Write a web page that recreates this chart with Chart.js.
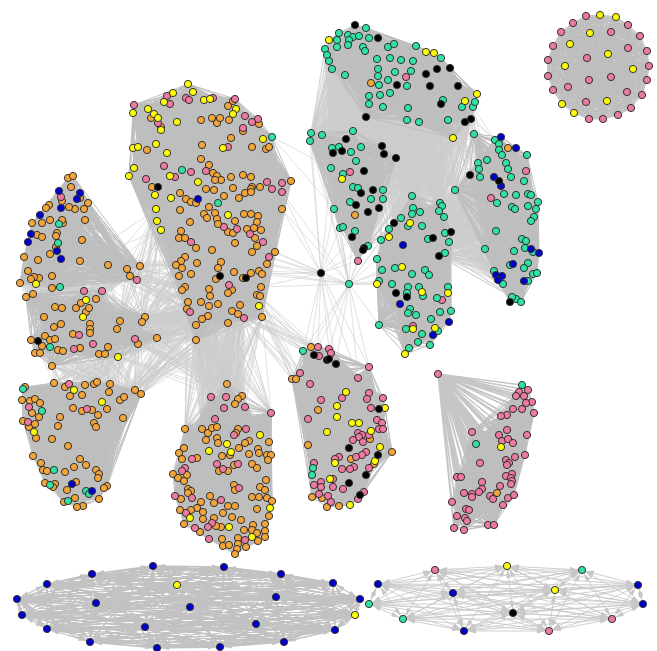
<!DOCTYPE html>
<html><head><meta charset="utf-8">
<script src="https://cdn.jsdelivr.net/npm/chart.js@4"></script>
<style>html,body{margin:0;padding:0;background:#fff}canvas{display:block}</style>
</head><body><canvas id="c" width="657" height="651"></canvas>
<script>
// node values: [x, y] in the layout's coordinate system
const A_orange=[[68,178],[73,176],[71,187],[80,198],[88,203],[84,209],[75,209],[69,207],[62,201],[49,205],[46,208],[85,220],[63,223],[62,220],[50,220],[42,223],[32,223],[57,233],[56,236],[37,235],[42,237],[82,240],[56,247],[50,254],[24,257],[38,260],[80,261],[108,265],[28,271],[52,276],[39,278],[34,277],[31,279],[20,283],[127,269],[140,266],[130,276],[52,288]];
const A_blue=[[59,191],[80,193],[77,199],[61,208],[40,215],[31,234],[28,242],[57,251],[61,259]];
const A_pink=[[61,197],[137,280]];
const A_green=[[59,224],[58,243],[60,287]];
const A_yellow=[[36,284]];
const B_orange=[[26,297],[33,294],[55,307],[62,308],[76,308],[81,303],[86,312],[89,308],[96,299],[44,317],[54,327],[61,324],[90,324],[90,329],[90,333],[73,334],[31,340],[45,336],[50,340],[55,339],[42,346],[35,353],[40,353],[58,350],[63,351],[80,348],[108,347],[99,354],[105,354],[52,366],[120,321],[117,329],[145,317],[142,322],[138,344],[157,338]];
const B_pink=[[84,291],[102,291],[79,335],[93,344],[74,349],[135,339]];
const B_yellow=[[86,300],[83,317],[118,357]];
const B_black=[[38,341]];
const B_green=[[50,347]];
const C_orange=[[54,383],[65,387],[70,396],[82,395],[85,385],[94,384],[97,382],[110,384],[109,392],[135,390],[141,394],[120,400],[124,397],[107,409],[123,418],[25,387],[22,400],[30,401],[35,399],[40,403],[32,413],[39,417],[23,421],[29,427],[35,424],[36,438],[52,439],[73,408],[82,411],[92,410],[98,415],[94,423],[96,427],[60,417],[58,426],[68,446],[33,456],[41,463],[43,470],[47,471],[65,472],[74,467],[80,459],[86,465],[96,470],[99,474],[98,478],[45,483],[55,484],[53,487],[76,482],[67,490],[107,486],[104,488],[99,499],[75,498],[64,502],[83,506],[77,507]];
const C_pink=[[69,384],[87,409],[29,407],[28,422]];
const C_yellow=[[74,390],[102,402],[34,432]];
const C_green=[[23,389],[42,411],[54,470],[50,485],[86,491],[89,494],[68,501]];
const C_blue=[[72,484],[92,491]];
const D_orange=[[151,118],[161,127],[228,106],[233,101],[201,120],[212,118],[217,123],[220,118],[229,120],[243,131],[259,124],[231,138],[202,145],[147,150],[252,147],[266,149],[269,147],[201,159],[209,165],[213,173],[217,176],[221,180],[215,180],[231,177],[243,175],[251,177],[152,187],[291,181],[260,187],[252,187],[251,189],[233,188],[214,190],[206,189],[245,193],[251,192],[239,198],[224,196],[180,193],[186,199],[191,202],[196,203],[180,210],[209,207],[204,214],[215,213],[207,218],[217,219],[244,214],[251,214],[258,216],[282,209],[190,222],[218,224],[235,221],[257,222],[254,228],[247,229],[261,230],[181,231],[228,232],[233,233],[179,238],[185,238],[255,238],[257,246],[196,248],[235,243],[252,252],[212,250],[275,252],[185,257],[181,261],[176,265],[182,268],[197,263],[221,262],[218,268],[267,264],[179,276],[191,274],[234,272],[216,279],[243,278],[251,273],[259,271],[262,274],[185,287],[182,290],[209,289],[232,290],[228,293],[210,296],[261,287],[257,295],[260,296],[188,302],[201,302],[209,306],[218,304],[240,305],[187,309],[232,311],[238,314],[208,316],[202,319],[196,325],[228,323],[262,317],[196,340]];
const D_pink=[[134,105],[167,96],[170,104],[186,98],[189,100],[213,98],[235,99],[245,116],[258,119],[252,122],[158,123],[243,128],[228,147],[164,166],[191,172],[206,171],[175,177],[146,179],[267,182],[272,189],[282,183],[282,192],[224,227],[237,229],[250,234],[191,242],[263,242],[269,257],[229,285],[190,312],[244,318]];
const D_yellow=[[188,84],[193,92],[173,93],[164,102],[133,113],[148,109],[154,114],[158,118],[161,130],[177,122],[204,100],[210,99],[236,109],[233,114],[263,139],[223,148],[156,144],[133,148],[138,147],[167,153],[134,168],[129,176],[170,176],[155,195],[198,182],[171,198],[156,209],[157,221],[161,230],[228,215],[259,306]];
const D_black=[[158,187],[220,276],[246,278]];
const D_green=[[272,137],[182,170],[218,203]];
const D_blue=[[198,199]];
const E_orange=[[227,384],[242,396],[238,399],[235,404],[185,429],[202,429],[208,433],[212,428],[217,427],[238,429],[236,433],[206,440],[217,438],[218,443],[184,448],[179,453],[182,459],[249,441],[245,443],[239,448],[269,442],[258,449],[259,453],[249,454],[267,455],[271,455],[268,460],[222,456],[230,455],[197,458],[234,465],[252,464],[257,468],[228,471],[219,471],[173,474],[178,478],[187,475],[184,481],[266,480],[260,487],[265,490],[234,485],[235,490],[188,489],[191,491],[188,493],[259,497],[252,497],[267,498],[272,501],[210,496],[181,499],[201,502],[214,503],[228,506],[235,506],[197,508],[180,510],[191,510],[203,512],[257,509],[223,513],[214,518],[203,519],[232,517],[241,520],[269,516],[184,524],[221,527],[216,526],[200,532],[244,530],[253,525],[252,530],[265,524],[265,531],[265,537],[257,533],[258,541],[222,539],[238,538],[223,546],[229,545],[238,544],[246,547],[237,549],[235,554]];
const E_pink=[[211,397],[226,397],[224,408],[245,407],[271,413],[215,419],[246,429],[234,435],[192,459],[217,464],[223,469],[238,464],[185,468],[182,471],[239,488],[175,496],[192,498],[221,500],[186,513],[212,523],[208,527],[195,528],[209,539],[245,540]];
const E_yellow=[[260,435],[227,444],[209,451],[231,452],[270,508],[190,518],[229,527],[252,537]];
const F_orange=[[311,347],[292,379],[296,379],[318,410],[308,445],[370,439],[392,452],[351,459],[374,464],[312,497],[322,498],[327,507],[339,506]];
const F_pink=[[318,347],[329,349],[331,353],[319,356],[369,367],[300,373],[358,378],[310,384],[342,398],[321,400],[369,393],[367,399],[383,398],[371,408],[308,419],[377,420],[382,423],[379,429],[383,429],[358,433],[362,435],[359,437],[369,435],[353,440],[363,442],[366,452],[362,455],[356,457],[339,457],[335,459],[314,463],[354,467],[350,469],[342,469],[369,468],[333,479],[321,482],[314,485],[321,487],[333,487],[343,489],[319,494],[328,496],[331,502],[358,499],[364,492]];
const F_yellow=[[346,392],[337,406],[337,417],[352,423],[359,423],[327,432],[371,431],[385,408],[380,447],[335,463],[330,479],[375,461],[350,505]];
const F_black=[[314,355],[327,360],[329,359],[336,364],[379,409],[349,448],[378,455],[366,475],[349,483],[360,495]];
const F_green=[[303,351],[313,468],[312,475]];
const G_green=[[339,33],[366,28],[348,35],[353,37],[359,36],[369,38],[337,40],[349,40],[348,45],[337,47],[325,49],[327,55],[329,61],[332,69],[345,75],[363,47],[365,51],[388,47],[394,44],[416,46],[441,58],[377,59],[390,58],[401,60],[413,61],[378,69],[395,72],[411,71],[378,76],[388,80],[379,85],[407,86],[390,93],[380,95],[369,96],[369,104],[383,107],[408,108],[407,120],[419,122],[448,120],[443,100],[462,107],[473,107],[475,102]];
const G_yellow=[[329,40],[426,52],[434,53],[465,101],[477,94],[453,138]];
const G_black=[[355,25],[378,38],[426,74],[437,69],[450,68],[430,86],[458,86],[397,85],[441,104],[366,117],[465,122],[471,119]];
const G_pink=[[406,77]];
const G_orange=[[371,83]];
const H_green=[[311,133],[322,135],[310,141],[353,131],[361,147],[332,148],[339,147],[351,152],[356,161],[331,168],[343,174],[353,187],[358,188],[383,190],[371,199],[383,199],[350,202],[334,209],[340,228],[343,227],[355,231],[368,246]];
const H_black=[[346,139],[333,153],[342,151],[382,146],[384,154],[396,158],[364,171],[361,193],[373,190],[356,205],[379,208],[368,212],[352,237],[364,248],[363,250]];
const H_pink=[[350,172],[358,261]];
const H_yellow=[[342,179]];
const H_orange=[[355,215]];
const I_green=[[412,196],[413,208],[420,212],[412,214],[401,218],[408,226],[422,226],[389,229],[381,240],[428,239],[377,259],[382,270],[395,268],[412,274],[425,270],[429,275],[379,281],[392,284],[408,287],[407,293],[419,287],[423,296],[437,298],[410,309],[408,313],[416,315],[431,319],[440,312],[451,311],[379,325],[406,329],[438,331],[422,334],[418,342],[430,345],[409,348],[440,203],[442,206],[439,211],[444,217],[445,233],[449,242],[445,253],[448,287]];
const I_black=[[394,223],[433,238],[451,232],[439,256],[396,293],[407,297]];
const I_yellow=[[410,223],[389,237],[402,267],[377,284],[422,292],[448,293],[413,329],[435,328],[405,354]];
const I_blue=[[403,245],[400,304],[449,322],[433,335]];
const I_pink=[[442,300],[413,326]];
const J_green=[[474,134],[495,140],[499,144],[499,150],[502,155],[527,155],[487,160],[478,163],[479,169],[480,177],[506,163],[508,169],[511,177],[524,181],[455,190],[504,194],[516,195],[528,194],[531,195],[538,202],[497,203],[512,207],[515,209],[528,206],[536,209],[534,217],[531,221],[496,231],[522,239],[526,241],[525,248],[533,252],[485,249],[514,251],[528,263],[524,268],[510,265],[533,274],[537,273],[494,271],[528,281],[503,284],[516,299],[521,302],[512,297]];
const J_blue=[[501,137],[516,148],[494,177],[501,186],[531,249],[539,253],[513,264],[496,275],[502,276],[498,280],[524,281]];
const J_orange=[[508,148]];
const J_pink=[[526,171],[491,198]];
const J_black=[[470,175],[499,181],[510,302]];
const K_pink=[[519,392],[528,390],[516,396],[524,396],[532,402],[526,403],[522,409],[513,409],[534,413],[507,415],[501,416],[472,432],[507,430],[499,435],[502,441],[508,439],[513,443],[527,435],[480,463],[525,455],[515,457],[506,460],[509,463],[507,465],[512,474],[506,476],[511,478],[512,481],[511,484],[500,486],[457,477],[461,477],[482,482],[482,489],[479,492],[472,494],[464,493],[472,497],[490,496],[493,499],[508,498],[514,495],[503,505],[452,502],[466,509],[469,510],[457,516],[465,518],[467,521],[454,528],[464,530],[488,525],[494,525]];
const K_green=[[522,385],[476,444]];
const K_yellow=[[501,447]];
const K_orange=[[497,493]];
const L_blue=[[17,599],[47,584],[92,574],[153,566],[224,567],[281,574],[333,583],[360,599],[276,597],[96,603],[190,607],[22,615],[47,629],[145,627],[256,624],[335,630],[90,642],[157,648],[220,647],[284,642]];
const L_yellow=[[177,585],[355,615]];
const M_blue=[[378,584],[453,593],[638,585],[643,604],[464,631]];
const M_pink=[[435,570],[612,619],[549,631]];
const M_yellow=[[507,566],[555,590]];
const M_green=[[582,570],[369,604],[403,619]];
const M_black=[[513,613]];
const N_pink=[[586,16],[573,23],[561,32],[553,46],[548,60],[548,76],[553,90],[589,119],[603,119],[618,115],[631,108],[642,95],[647,80],[649,66],[647,51],[640,36],[628,25],[611,32],[628,48],[587,58],[611,77],[589,80],[568,87],[627,92],[586,102]];
const N_yellow=[[600,15],[616,17],[590,33],[570,44],[608,54],[565,66],[633,69],[607,101],[562,104],[574,113]];
const hubBlack=[[321,273]];
const hubGreen=[[349,284]];
const hubPink=[[438,374]];

// groups of nodes joined to each other
const groups=[
 [...A_orange,...A_blue,...A_pink,...A_green,...A_yellow],
 [...B_orange,...B_pink,...B_yellow,...B_black,...B_green],
 [...C_orange,...C_pink,...C_yellow,...C_green,...C_blue],
 [...D_orange,...D_pink,...D_yellow,...D_black,...D_green,...D_blue],
 [...E_orange,...E_pink,...E_yellow],
 [...F_orange,...F_pink,...F_yellow,...F_black,...F_green],
 [...G_green,...G_yellow,...G_black,...G_pink,...G_orange],
 [...H_green,...H_black,...H_pink,...H_yellow,...H_orange],
 [...I_green,...I_black,...I_yellow,...I_blue,...I_pink],
 [...J_green,...J_blue,...J_orange,...J_pink,...J_black],
 [...K_pink,...K_green,...K_yellow,...K_orange],
 [...N_pink,...N_yellow]
];
const ringL=[...L_blue,...L_yellow];
const ringM=[...M_blue,...M_pink,...M_yellow,...M_green,...M_black];
// links between groups: every node of the first list to every node of the second
const dLeft=[[161,230],[176,265],[179,276],[181,261],[185,287],[182,290],[188,302],[187,309],[196,325],[155,210],[190,312]];
const dBottom=[[196,325],[202,319],[208,316],[196,340],[188,302],[187,309],[201,302],[190,312],[228,323],[244,318],[262,317],[218,304],[240,305],[232,311],[238,314],[209,306]];
const aOut=[[127,269],[140,266],[130,276],[137,280],[108,265],[80,261]];
const aBottom=[[20,283],[52,288],[39,278],[60,287],[31,279],[52,276],[127,269],[140,266],[130,276],[24,257],[38,260],[80,261],[108,265],[50,254]];
const bTop=[[26,297],[33,294],[55,307],[62,308],[84,291],[102,291],[96,299],[76,308],[44,317],[145,317],[89,308],[81,303],[120,321],[117,329],[142,322],[54,327],[61,324]];
const bRight=[[145,317],[142,322],[138,344],[157,338],[120,321],[117,329],[135,339],[118,357]];
const bBottom=[[40,353],[58,350],[63,351],[80,348],[99,354],[105,354],[108,347],[118,357],[135,339],[138,344],[52,366],[93,344],[142,322],[157,338]];
const cTop=[[54,383],[65,387],[70,396],[85,385],[94,384],[97,382],[110,384],[109,392],[120,400],[124,397],[135,390],[141,394]];
const cRight=[[135,390],[141,394],[120,400],[124,397]];
const eTop=[[227,384],[242,396],[238,399],[235,404],[211,397],[226,397],[245,407],[224,408],[271,413],[202,429],[208,433],[212,428],[217,427],[185,429],[238,429],[215,419]];
const dLow=[[244,318],[262,317],[259,306],[260,296],[238,314]];
const fTop=[[303,351],[311,347],[318,347],[319,356],[300,373],[292,379],[296,379]];
const iRight=[[445,253],[449,242],[445,233],[451,232],[439,256],[444,217],[440,203],[442,206]];
const gRightPart=[...G_green.slice(19,45),...G_black.slice(2,12)];
const iTop=[[412,196],[413,208],[420,212],[440,203],[442,206],[401,218],[394,223],[455,190],[439,211],[444,217],[408,226],[422,226]];
const gEnd=[[474,134],[453,138],[473,107],[471,119],[462,107],[448,120]];
const jLeft=[[478,163],[480,177],[470,175],[455,190],[495,140],[487,160],[479,169]];
const hRight=[[368,246],[364,248],[383,199],[383,190],[373,190],[379,208]];
const iLeft=[[389,229],[381,240],[394,223],[401,218],[412,214]];
const dRight=[[275,252],[269,257],[267,264],[262,274],[282,210],[282,192],[259,271],[261,287]];
const hLeft=[[311,133],[310,141],[331,168],[334,209],[340,228],[352,237],[363,250],[358,261]];
const iFan=[[377,259],[382,270],[379,281],[379,325],[392,284],[389,229],[381,240],[377,284],[395,268]];
const fHubs=[[303,351],[318,347],[329,349],[336,364],[369,367],[358,378],[311,347]];
const links=[
 [aOut,dLeft],[bRight,dBottom],[bRight,dLeft],[aBottom,bTop],[bBottom,cTop],[cRight,dBottom],
 [dBottom,eTop],[dLow,fTop],[bRight,eTop.slice(0,4)],[G_green,H_green],[G_black,H_black],[gRightPart,iTop],[gEnd,jLeft],[hRight,iLeft],
 [iRight,J_green],[iRight,J_blue],
 [hubBlack,dRight],[hubBlack,hLeft],[hubBlack,fHubs],[hubGreen,dRight],[hubGreen,hLeft],[hubGreen,iFan],[hubGreen,fHubs],
 [[[272,137]],[[343,174],[334,209]]]
];
const fanLinks=[[hubPink,K_pink],[hubPink,K_green],[hubPink,K_orange]];

function pairs(list){const o=[];for(let i=0;i<list.length;i++)for(let j=i+1;j<list.length;j++)o.push([list[i],list[j]]);return o;}
function cross(a,b){const o=[];a.forEach(p=>b.forEach(q=>o.push([p,q])));return o;}
function path(edges){const o=[];edges.forEach(e=>{o.push({x:e[0][0],y:e[0][1]},{x:e[1][0],y:e[1][1]},{x:null,y:null});});return o;}
function pts(...lists){return lists.flat().map(p=>({x:p[0],y:p[1]}));}

const denseEdges=path(groups.flatMap(pairs));
const linkEdges=path(links.flatMap(l=>cross(l[0],l[1])));
const fanEdges=path(fanLinks.flatMap(l=>cross(l[0],l[1])));
const pairsL=pairs(ringL), pairsM=pairs(ringM);

function nodes(color,order,...lists){return {type:'scatter',data:pts(...lists),showLine:false,pointRadius:3.6,pointBackgroundColor:color,pointBorderColor:'#303030',pointBorderWidth:1,order:order};}
function edges(data,color,w){return {type:'scatter',data:data,showLine:true,spanGaps:false,borderColor:color,borderWidth:w,pointRadius:0,order:100};}

// arrow heads at both ends of the two sparse rings, placed through the chart's scales
const arrowHeads={id:'arrowHeads',beforeDatasetsDraw(chart){
 const {ctx,scales:{x,y}}=chart;ctx.save();ctx.fillStyle='#c4c4c4';ctx.beginPath();
 const head=(a,b)=>{const ax=x.getPixelForValue(a[0]),ay=y.getPixelForValue(a[1]),bx=x.getPixelForValue(b[0]),by=y.getPixelForValue(b[1]);
  const d=Math.hypot(bx-ax,by-ay)||1,ux=(bx-ax)/d,uy=(by-ay)/d,tx=ax+ux*4,ty=ay+uy*4,bsx=tx+ux*8,bsy=ty+uy*8;
  ctx.moveTo(tx,ty);ctx.lineTo(bsx-uy*2.4,bsy+ux*2.4);ctx.lineTo(bsx+uy*2.4,bsy-ux*2.4);ctx.closePath();};
 [...pairsL,...pairsM].forEach(p=>{head(p[0],p[1]);head(p[1],p[0]);});
 ctx.fill();ctx.restore();
}};

new Chart(document.getElementById('c'),{
 type:'scatter',
 plugins:[arrowHeads],
 data:{datasets:[
  edges(denseEdges,'#bebebe',1),
  edges(linkEdges,'#cdcdcd',0.6),
  edges(fanEdges,'#c6c6c6',1.6),
  edges(path(pairsL),'#c2c2c2',1.3),
  edges(path(pairsM),'#cacaca',0.9),
  nodes('#f4a53a',6,A_orange,B_orange,C_orange,D_orange,E_orange,F_orange,G_orange,H_orange,J_orange,K_orange),
  nodes('#ef7aa1',5,A_pink,B_pink,C_pink,D_pink,E_pink,F_pink,G_pink,H_pink,I_pink,J_pink,K_pink,M_pink,N_pink,hubPink),
  nodes('#2fe3a3',4,A_green,B_green,C_green,D_green,F_green,G_green,H_green,I_green,J_green,K_green,M_green,hubGreen),
  nodes('#ffff00',3,A_yellow,B_yellow,C_yellow,D_yellow,E_yellow,F_yellow,G_yellow,H_yellow,I_yellow,K_yellow,L_yellow,M_yellow,N_yellow),
  nodes('#0000cc',2,A_blue,C_blue,D_blue,I_blue,J_blue,L_blue,M_blue),
  nodes('#000000',1,B_black,D_black,F_black,G_black,H_black,I_black,J_black,M_black,hubBlack)
 ]},
 options:{
  responsive:false,animation:false,events:[],
  layout:{padding:0,autoPadding:false},
  plugins:{legend:{display:false},tooltip:{enabled:false},title:{display:false}},
  elements:{line:{tension:0}},
  scales:{
   x:{type:'linear',min:0,max:657,display:false},
   y:{type:'linear',min:0,max:651,reverse:true,display:false}
  }
 }
});
</script></body></html>
